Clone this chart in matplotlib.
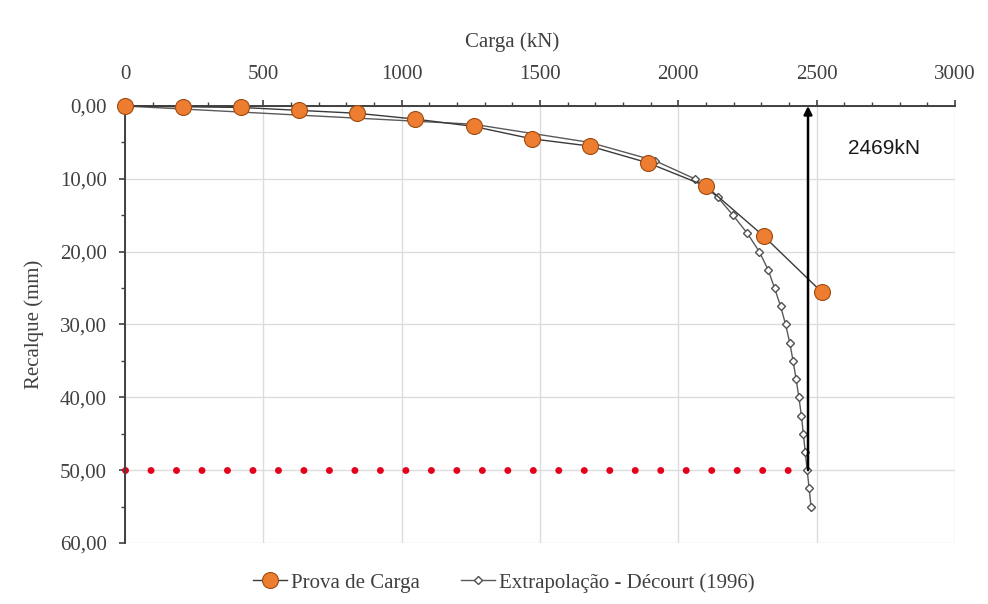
import matplotlib
matplotlib.use("Agg")
import matplotlib.pyplot as plt
from matplotlib.ticker import MultipleLocator, FixedLocator

# ---- dados da prova de carga ----
carga = [0, 210, 420, 630, 840, 1050, 1260, 1470, 1680, 1890, 2100, 2310, 2520]
recalque = [0.0, 0.1, 0.2, 0.6, 1.0, 1.8, 2.8, 4.5, 5.5, 7.8, 11.0, 17.9, 25.6]

# ---- extrapolação (Décourt, 1996) ----
carga_ext = [0, 1258, 1680, 1915, 2060, 2142, 2198, 2250, 2293, 2325, 2348, 2370,
             2388, 2403, 2415, 2426, 2436, 2445, 2452, 2459, 2466, 2473, 2480]
recalque_ext = [0.0, 2.5, 5.0, 7.5, 10.0, 12.5, 15.0, 17.5, 20.0, 22.5, 25.0, 27.5,
                30.0, 32.5, 35.0, 37.5, 40.0, 42.5, 45.0, 47.5, 50.0, 52.5, 55.0]

# carga de ruptura e recalque limite
carga_rup = 2469
recalque_lim = 50.0
linha_lim_x = [0, 2420]

xticks = [0, 500, 1000, 1500, 2000, 2500, 3000]
yticks = [0, 10, 20, 30, 40, 50, 60]
ytick_labels = ["0,00", "10,00", "20,00", "30,00", "40,00", "50,00", "60,00"]

serif = "Liberation Serif"
cinza = "#404040"

fig = plt.figure(figsize=(9.88, 6.04), dpi=100)
ax = fig.add_axes([0.1265, 0.101, 0.84, 0.7235])

ax.set_xlim(0, 3000)
ax.set_ylim(60, 0)

# ---- grade ----
ax.xaxis.set_major_locator(FixedLocator(xticks))
ax.xaxis.set_minor_locator(MultipleLocator(100))
ax.yaxis.set_major_locator(FixedLocator(yticks))
ax.yaxis.set_minor_locator(MultipleLocator(5))
ax.set_yticklabels(ytick_labels)
ax.grid(which="major", color="#dcdcdc", linewidth=1.0)
ax.set_axisbelow(True)

ax.xaxis.tick_top()
ax.xaxis.set_label_position("top")

for s in ["bottom", "right"]:
    ax.spines[s].set_visible(False)
for s in ["top", "left"]:
    ax.spines[s].set_color(cinza)
    ax.spines[s].set_linewidth(1.4)

ax.tick_params(axis="x", which="major", direction="out", length=4, width=1.2,
               color=cinza, pad=12, labelsize=15, labelcolor=cinza)
ax.tick_params(axis="x", which="minor", direction="out", length=3, width=1.0, color=cinza)
ax.tick_params(axis="y", which="major", direction="out", length=4, width=1.2,
               color=cinza, pad=9, labelsize=15, labelcolor=cinza)
ax.tick_params(axis="y", which="minor", direction="out", length=3, width=1.0, color=cinza)
for lab in ax.get_xticklabels() + ax.get_yticklabels():
    lab.set_fontfamily(serif)

# ---- linha do recalque limite ----
ax.plot(linha_lim_x, [recalque_lim, recalque_lim], color="#e3001b", linewidth=5.0,
        linestyle=(0, (0.01, 3.66)), dash_capstyle="round", zorder=2, clip_on=False)

# ---- curvas ----
ax.plot(carga_ext, recalque_ext, "-D", color="#5a5a5a", linewidth=1.0,
        markersize=4.5, markerfacecolor="white", markeredgecolor="#505050",
        markeredgewidth=1.0, label="Extrapolação - Décourt (1996)", zorder=3, clip_on=False)
ax.plot(carga, recalque, "-o", color="#3a3a3a", linewidth=1.0,
        markersize=11.5, markerfacecolor="#ed7d31", markeredgecolor="#a04a10",
        markeredgewidth=0.8, label="Prova de Carga", zorder=4, clip_on=False)

# ---- seta da carga de ruptura ----
ax.annotate("", xy=(carga_rup, 0), xytext=(carga_rup, recalque_lim),
            arrowprops=dict(arrowstyle="-|>", color="black", lw=1.8,
                            mutation_scale=12, shrinkA=0, shrinkB=0),
            zorder=6, annotation_clip=False)
ax.text(2744, 5.8, "%dkN" % carga_rup, ha="center", va="center",
        fontsize=15, family="Liberation Sans", color="#1a1a1a")

# ---- rótulos dos eixos ----
ax.set_xlabel("Carga (kN)", fontsize=15, family=serif, color=cinza)
ax.xaxis.set_label_coords(0.467, 1.135)
ax.set_ylabel("Recalque (mm)", fontsize=15, family=serif, color=cinza)
ax.yaxis.set_label_coords(-0.098, 0.5)

# ---- legenda ----
h, l = ax.get_legend_handles_labels()
leg = fig.legend(h[::-1], l[::-1], loc="center", bbox_to_anchor=(0.51, 0.035),
                 ncol=2, frameon=False, handlelength=1.6, handletextpad=0.2,
                 columnspacing=2.0, prop={"family": serif, "size": 15})
for t in leg.get_texts():
    t.set_color(cinza)

plt.savefig("out.png", dpi=100)
